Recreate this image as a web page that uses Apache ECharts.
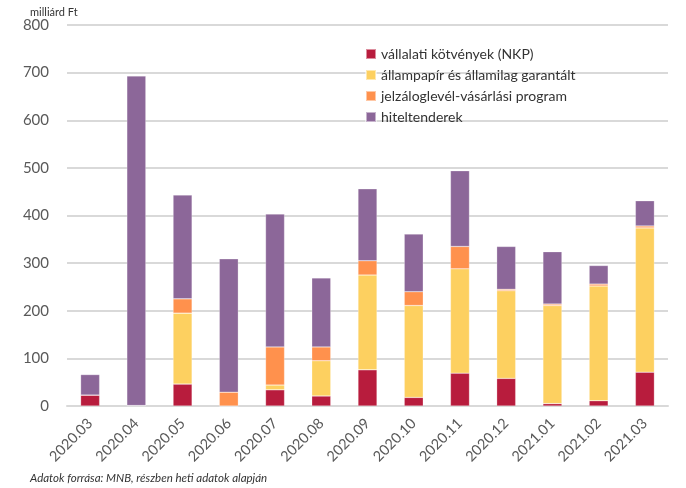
<!DOCTYPE html>
<html><head><meta charset="utf-8">
<script src="https://cdn.jsdelivr.net/npm/echarts@6/dist/echarts.min.js"></script>
<style>html,body{margin:0;padding:0;background:#fff}#c{width:686px;height:488px}</style>
</head><body><div id="c"></div>
<script>
const categories = ['2020.03','2020.04','2020.05','2020.06','2020.07','2020.08','2020.09','2020.10','2020.11','2020.12','2021.01','2021.02','2021.03'];
const nkp     = [23, 1, 46, 0, 34, 21, 76, 18, 69, 58, 5, 11, 71];
const allam   = [0, 0, 149, 0, 10, 74, 199, 193, 219, 184, 206, 241, 303];
const jelzalog= [0, 0, 30, 29, 80, 29, 30, 29, 47, 3, 3, 4, 4];
const hitel   = [43, 692, 218, 280, 279, 145, 151, 121, 159, 90, 110, 39, 53];
const yTicks = [0,100,200,300,400,500,600,700,800];
const seriesNames = ['vállalati kötvények (NKP)','állampapír és államilag garantált','jelzáloglevél-vásárlási program','hiteltenderek'];
const colors = ['#B81C3D','#FDD060','#FF914D','#8C6799'];
const dataSets = [nkp, allam, jelzalog, hitel];

const chart = echarts.init(document.getElementById('c'));
const font = 'Lato, "Open Sans", sans-serif';
chart.setOption({
  animation:false,
  textStyle:{fontFamily:font},
  grid:{left:67,right:18,top:25,bottom:82},
  legend:{
    orient:'vertical', left:360, top:42, itemWidth:10, itemHeight:10, itemGap:7,
    icon:'rect',
    textStyle:{fontSize:14, color:'#333', fontFamily:font},
    data:seriesNames
  },
  graphic:[
    {type:'text', left:30, top:7, style:{text:'milliárd Ft', fontSize:11, fill:'#333', fontFamily:font}},
    {type:'text', left:30, top:472, style:{text:'Adatok forrása: MNB, részben heti adatok alapján', fontSize:11.5, fontStyle:'italic', fill:'#333', fontFamily:font}}
  ],
  xAxis:{
    type:'category', data:categories,
    axisLine:{lineStyle:{color:'#d9d9d9', width:2}},
    axisTick:{show:false},
    axisLabel:{rotate:45, fontSize:14.5, color:'#595959', margin:15, fontFamily:font, interval:0}
  },
  yAxis:{
    type:'value', min:yTicks[0], max:yTicks[yTicks.length-1], interval:100,
    axisLine:{show:false}, axisTick:{show:false},
    splitLine:{lineStyle:{color:'#d9d9d9', width:2}},
    axisLabel:{fontSize:15, color:'#595959', margin:18, fontFamily:font}
  },
  series: seriesNames.map((n,i)=>({
    name:n, type:'bar', stack:'s', data:dataSets[i], barWidth:19,
    itemStyle:{color:colors[i], borderColor:'rgba(255,255,255,0.5)', borderWidth:0.5}
  }))
});
</script></body></html>
